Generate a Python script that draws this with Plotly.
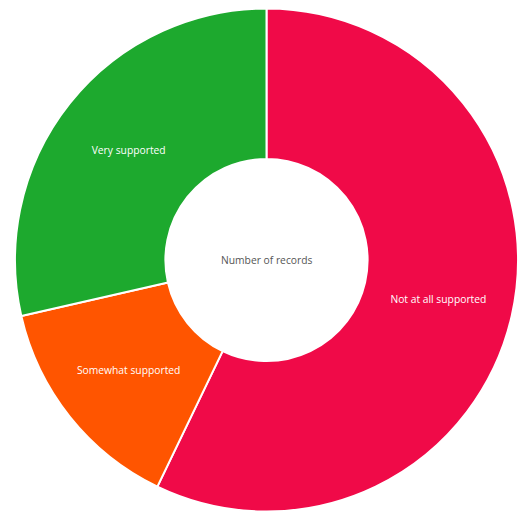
import plotly.graph_objects as go

labels = ["Not at all supported", "Somewhat supported", "Very supported"]
values = [4, 1, 2]
colors = ["#F00A48", "#FF5500", "#1DA92E"]
center_label = "Number of records"

fig = go.Figure(go.Pie(
    labels=labels,
    values=values,
    hole=0.402,
    sort=False,
    direction="clockwise",
    rotation=0,
    marker=dict(colors=colors, line=dict(color="white", width=2)),
    textinfo="label",
    textposition="inside",
    insidetextorientation="horizontal",
    textfont=dict(family="Open Sans", size=10.3, color="white"),
    showlegend=False,
    hoverinfo="label+value+percent",
))

fig.add_annotation(
    text=center_label, x=0.5, y=0.5, xref="paper", yref="paper",
    showarrow=False, font=dict(family="Open Sans", size=10.3, color="#555555"),
)

fig.update_layout(
    width=518, height=512,
    margin=dict(l=15, r=0, t=8, b=0),
    paper_bgcolor="white", plot_bgcolor="white",
)

fig.write_html("out.html")
